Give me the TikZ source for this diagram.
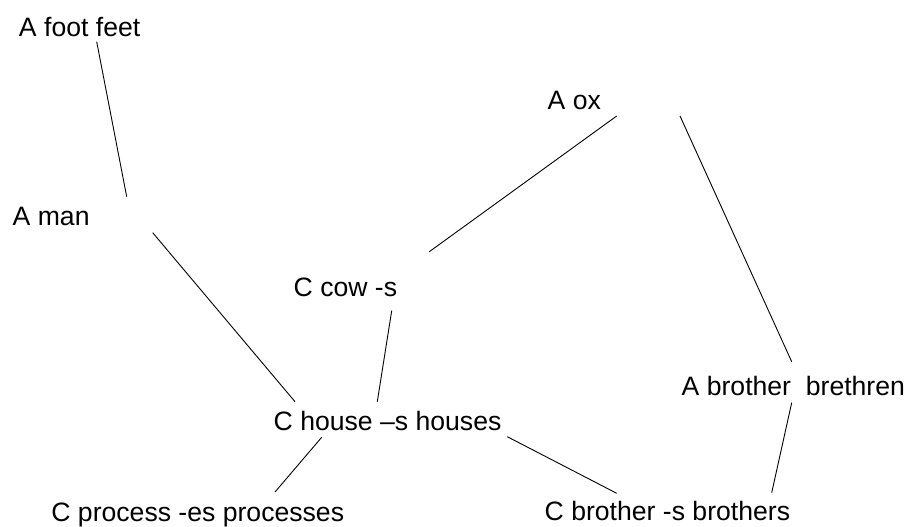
\documentclass[tikz,border=0pt]{standalone}
\usepackage{fontspec}
\setmainfont{Liberation Sans}
\begin{document}
\begin{tikzpicture}[x=1pt,y=-1pt,
  lbl/.style={inner sep=0pt,outer sep=0pt,anchor=base west,font=\fontsize{26.6}{30}\selectfont,text=black},
  conn/.style={draw=black,line width=0.9pt}]
\useasboundingbox (0,0) rectangle (905,527);
\node[lbl] (foot) at (19,36.7) {A foot feet};
\node[lbl] (man) at (12.7,225) {A man};
\node[lbl] (ox) at (547.7,110) {A ox};
\node[lbl] (cow) at (293.7,296.7) {C cow -s};
\node[lbl] (house) at (273.7,430) {C house –s houses};
\node[lbl] (brother) at (681.7,395.7) {A brother\ \ brethren};
\node[lbl] (process) at (51.4,521) {C process -es processes};
\node[lbl] (brothers) at (544.7,520) {C brother -s brothers};
\draw[conn] ([shift={(77.7,5)}]foot.base west) -- ([shift={(114,-28.3)}]man.base west);
\draw[conn] ([shift={(140,7.7)}]man.base west) -- ([shift={(21.3,-28.3)}]house.base west);
\draw[conn] ([shift={(69,6)}]ox.base west) -- ([shift={(135.6,-45)}]cow.base west);
\draw[conn] ([shift={(132.3,6)}]ox.base west) -- ([shift={(110,-34)}]brother.base west);
\draw[conn] ([shift={(98,14)}]cow.base west) -- ([shift={(103.6,-28.3)}]house.base west);
\draw[conn] ([shift={(48,7.3)}]house.base west) -- ([shift={(223.6,-29)}]process.base west);
\draw[conn] ([shift={(233.6,6.7)}]house.base west) -- ([shift={(72,-26.7)}]brothers.base west);
\draw[conn] ([shift={(110,7)}]brother.base west) -- ([shift={(227,-27.3)}]brothers.base west);
\end{tikzpicture}
\end{document}
